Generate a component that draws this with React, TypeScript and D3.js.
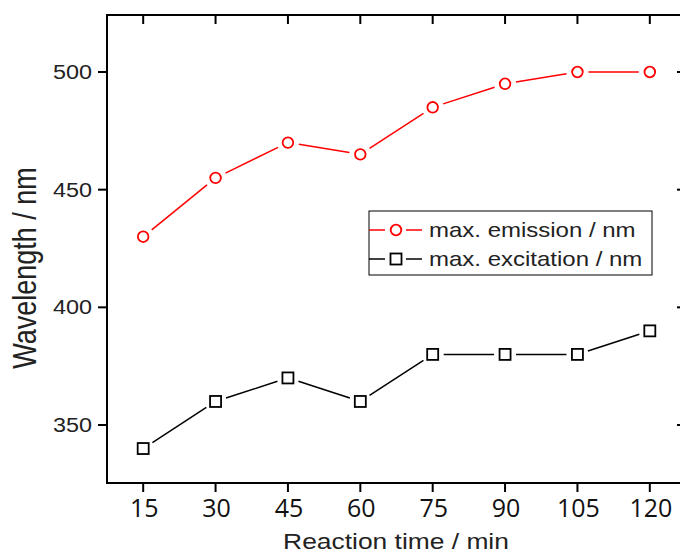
import React from "react";
import * as d3 from "d3";

const times = [15, 30, 45, 60, 75, 90, 105, 120];
const emission = [430, 455, 470, 465, 485, 495, 500, 500];
const excitation = [340, 360, 370, 360, 380, 380, 380, 390];
const yTicks = [350, 400, 450, 500];
const legendLabels = ["max. emission / nm", "max. excitation / nm"];

const W = 680;
const H = 553;
const left = 107, right = 686, top = 15, bottom = 483;
const SX = 1.2;

function gapSegments(pts: [number, number][], gap: number) {
  const segs: [number, number, number, number][] = [];
  for (let i = 0; i < pts.length - 1; i++) {
    const [x1, y1] = pts[i];
    const [x2, y2] = pts[i + 1];
    const dx = x2 - x1, dy = y2 - y1;
    const L = Math.hypot(dx, dy);
    if (L <= 2 * gap) continue;
    const ux = dx / L, uy = dy / L;
    segs.push([x1 + ux * gap, y1 + uy * gap, x2 - ux * gap, y2 - uy * gap]);
  }
  return segs;
}

export default function App() {
  const x = d3.scaleLinear().domain([7.5, 127.5]).range([left, right]);
  const y = d3.scaleLinear().domain([350, 500]).range([425, 72]);

  const emPts = times.map((t, i) => [x(t), y(emission[i])] as [number, number]);
  const exPts = times.map((t, i) => [x(t), y(excitation[i])] as [number, number]);

  const font = "'Liberation Sans', Arial, sans-serif";
  const tickFont = "'Open Sans', 'Liberation Sans', sans-serif";

  return (
    <svg width={W} height={H} style={{ position: "absolute", left: 0, top: 0 }}>
      <rect x={0} y={0} width={W} height={H} fill="#fff" />
      {/* frame */}
      <rect x={left} y={top} width={right - left} height={bottom - top} fill="none" stroke="#000" strokeWidth={2} />
      {/* x ticks bottom (outward) and top (inward) */}
      {times.map((t) => (
        <g key={"xt" + t}>
          <line x1={x(t)} x2={x(t)} y1={bottom} y2={bottom + 9} stroke="#000" strokeWidth={2} />
          <line x1={x(t)} x2={x(t)} y1={top} y2={top + 9} stroke="#000" strokeWidth={2} />
          <text
            transform={`translate(${x(t) + 1},${516.5})`}
            textAnchor="middle"
            fontFamily={tickFont}
            fontSize={25}
            fill="#111"
          >
            {t}
          </text>
        </g>
      ))}
      {/* y ticks */}
      {yTicks.map((v) => (
        <g key={"yt" + v}>
          <line x1={left - 9} x2={left} y1={y(v)} y2={y(v)} stroke="#000" strokeWidth={2} />
          <line x1={right - 9} x2={right} y1={y(v)} y2={y(v)} stroke="#000" strokeWidth={2} />
          <text
            transform={`translate(${92},${y(v) + 7}) scale(${SX},1)`}
            textAnchor="end"
            fontFamily={font}
            fontSize={19.5}
            fill="#222"
          >
            {v}
          </text>
        </g>
      ))}
      {/* axis titles */}
      <text
        transform={`translate(${396},${549}) scale(${SX},1)`}
        textAnchor="middle"
        fontFamily={font}
        fontSize={22}
        fill="#222"
      >
        Reaction time / min
      </text>
      <text
        transform={`translate(${36},${268}) scale(${SX},1) rotate(-90)`}
        textAnchor="middle"
        fontFamily={font}
        fontSize={27}
        fill="#222"
      >
        Wavelength / nm
      </text>

      {/* series lines */}
      {gapSegments(emPts, 11).map((s, i) => (
        <line key={"el" + i} x1={s[0]} y1={s[1]} x2={s[2]} y2={s[3]} stroke="#ff0000" strokeWidth={1.5} />
      ))}
      {gapSegments(exPts, 11).map((s, i) => (
        <line key={"xl" + i} x1={s[0]} y1={s[1]} x2={s[2]} y2={s[3]} stroke="#000" strokeWidth={1.5} />
      ))}
      {emPts.map((p, i) => (
        <circle key={"ec" + i} cx={p[0]} cy={p[1]} r={5.3} fill="none" stroke="#ff0000" strokeWidth={1.8} />
      ))}
      {exPts.map((p, i) => (
        <rect key={"xs" + i} x={p[0] - 5.5} y={p[1] - 5.5} width={11} height={11} fill="none" stroke="#000" strokeWidth={1.8} />
      ))}

      {/* legend */}
      <rect x={369} y={211} width={283} height={64} fill="#fff" stroke="#000" strokeWidth={1} />
      <line x1={369} x2={385} y1={230} y2={230} stroke="#ff0000" strokeWidth={1.5} />
      <line x1={406} x2={422} y1={230} y2={230} stroke="#ff0000" strokeWidth={1.5} />
      <circle cx={396} cy={230} r={5.3} fill="none" stroke="#ff0000" strokeWidth={1.8} />
      <line x1={369} x2={385} y1={259} y2={259} stroke="#000" strokeWidth={1.5} />
      <line x1={406} x2={422} y1={259} y2={259} stroke="#000" strokeWidth={1.5} />
      <rect x={390.5} y={253.5} width={11} height={11} fill="none" stroke="#000" strokeWidth={1.8} />
      <text transform={`translate(429,237) scale(${SX},1)`} fontFamily={font} fontSize={20} fill="#222">
        {legendLabels[0]}
      </text>
      <text transform={`translate(429,266) scale(${SX},1)`} fontFamily={font} fontSize={20} fill="#222">
        {legendLabels[1]}
      </text>
    </svg>
  );
}
